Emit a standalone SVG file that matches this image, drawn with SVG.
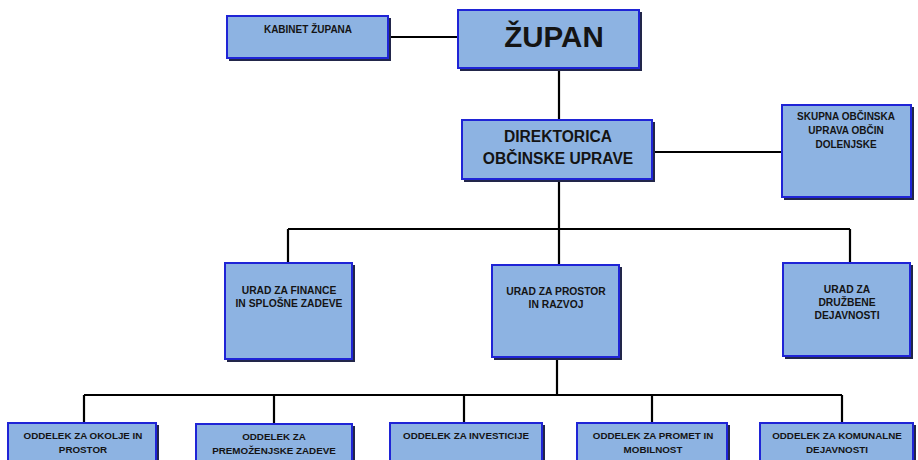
<svg xmlns="http://www.w3.org/2000/svg" width="918" height="460" viewBox="0 0 918 460">
<style>
.sh{fill:#22264a}
.bx{fill:#8db3e2;stroke:#1f24d6;stroke-width:2}
.t{font-family:"Liberation Sans",Arial,sans-serif;font-weight:bold;fill:#141414;text-anchor:middle}
.ln{stroke:#000;stroke-width:2.2;fill:none}
</style>
<rect width="918" height="460" fill="#ffffff"/>
<g id="connectors">
<path class="ln" d="M389 37H458"/>
<path class="ln" d="M559 69V120"/>
<path class="ln" d="M653 152H782"/>
<path class="ln" d="M559 180V229"/>
<path class="ln" d="M288 229H850M288 229V263M559 229V265M850 229V263"/>
<path class="ln" d="M557 358V395"/>
<path class="ln" d="M84 395H842M84 395V423M274 395V424M464 395V423M652 395V423M842 395V423"/>
</g>
<g id="kabinet">
<rect class="sh" x="229" y="18" width="162" height="43"/>
<rect class="bx" x="227" y="16" width="161" height="42"/>
<text class="t" x="308" y="33" font-size="10">KABINET ŽUPANA</text>
</g>
<g id="zupan">
<rect class="sh" x="460" y="12" width="182" height="59"/>
<rect class="bx" x="458" y="10" width="181" height="58"/>
<text class="t" x="554" y="47" font-size="29.5">ŽUPAN</text>
</g>
<g id="direktorica">
<rect class="sh" x="464" y="122" width="191" height="60"/>
<rect class="bx" x="462" y="120" width="190" height="59"/>
<text class="t" x="558" y="142" font-size="15.6">DIREKTORICA</text>
<text class="t" x="558" y="164" font-size="15.6">OBČINSKE UPRAVE</text>
</g>
<g id="skupna">
<rect class="sh" x="784" y="107" width="130" height="93"/>
<rect class="bx" x="782" y="105" width="129" height="92"/>
<text class="t" x="846" y="120" font-size="10">SKUPNA OBČINSKA</text>
<text class="t" x="846" y="134" font-size="10">UPRAVA OBČIN</text>
<text class="t" x="846" y="148" font-size="10">DOLENJSKE</text>
</g>
<g id="finance">
<rect class="sh" x="227" y="265" width="128" height="97"/>
<rect class="bx" x="225" y="263" width="127" height="96"/>
<text class="t" x="289" y="294" font-size="10.3">URAD ZA FINANCE</text>
<text class="t" x="289" y="307" font-size="10.3">IN SPLOŠNE ZADEVE</text>
</g>
<g id="prostor">
<rect class="sh" x="494" y="267" width="128" height="93"/>
<rect class="bx" x="492" y="265" width="127" height="92"/>
<text class="t" x="556" y="295" font-size="10.3">URAD ZA PROSTOR</text>
<text class="t" x="556" y="308" font-size="10.3">IN RAZVOJ</text>
</g>
<g id="druzbene">
<rect class="sh" x="785" y="265" width="128" height="94"/>
<rect class="bx" x="783" y="263" width="127" height="93"/>
<text class="t" x="847" y="293" font-size="10.3">URAD ZA</text>
<text class="t" x="847" y="306" font-size="10.3">DRUŽBENE</text>
<text class="t" x="847" y="319" font-size="10.3">DEJAVNOSTI</text>
</g>
<g id="okolje">
<rect class="sh" x="10" y="425" width="149" height="40"/>
<rect class="bx" x="8" y="423" width="148" height="40"/>
<text class="t" x="83" y="439" font-size="9.8">ODDELEK ZA OKOLJE IN</text>
<text class="t" x="83" y="453" font-size="9.8">PROSTOR</text>
</g>
<g id="premozenjske">
<rect class="sh" x="198" y="426" width="157" height="40"/>
<rect class="bx" x="196" y="424" width="156" height="40"/>
<text class="t" x="274" y="440" font-size="9.8">ODDELEK ZA</text>
<text class="t" x="274" y="454" font-size="9.8">PREMOŽENJSKE ZADEVE</text>
</g>
<g id="investicije">
<rect class="sh" x="392" y="425" width="153" height="40"/>
<rect class="bx" x="390" y="423" width="152" height="40"/>
<text class="t" x="466" y="439" font-size="9.8">ODDELEK ZA INVESTICIJE</text>
</g>
<g id="promet">
<rect class="sh" x="579" y="425" width="151" height="40"/>
<rect class="bx" x="577" y="423" width="150" height="40"/>
<text class="t" x="653" y="439" font-size="9.8">ODDELEK ZA PROMET IN</text>
<text class="t" x="653" y="453" font-size="9.8">MOBILNOST</text>
</g>
<g id="komunalne">
<rect class="sh" x="762" y="425" width="154" height="40"/>
<rect class="bx" x="760" y="423" width="153" height="40"/>
<text class="t" x="837" y="439" font-size="9.8">ODDELEK ZA KOMUNALNE</text>
<text class="t" x="837" y="453" font-size="9.8">DEJAVNOSTI</text>
</g>
</svg>
